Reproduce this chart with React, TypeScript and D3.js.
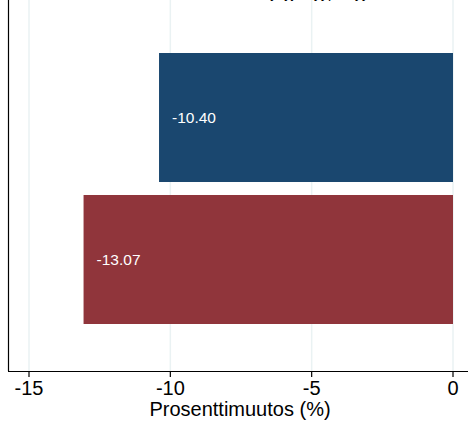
import React from "react";
import * as d3 from "d3";

const categories = ["Ryhmä A", "Ryhmä B"];
const values = [-10.4, -13.07];
const colors = ["#1a476f", "#90353b"];
const xTicks = [-15, -10, -5, 0];
const xTitle = "Prosenttimuutos (%)";
const topTitle = "kysyjä, tyypillisyys,";

const W = 468;
const H = 421;

export default function App() {
  const x = d3.scaleLinear().domain([-15, 0]).range([29, 453]);
  const y = d3
    .scaleBand<string>()
    .domain(categories)
    .range([6, 371])
    .paddingInner(0.0915)
    .paddingOuter(0.331);
  const axisY = 371;
  const font = "'Liberation Sans', Arial, sans-serif";
  return (
    <svg
      width={W}
      height={H}
      style={{ position: "absolute", left: 0, top: 0, background: "#fff" }}
      fontFamily={font}
    >
      <rect x={0} y={0} width={W} height={H} fill="#fff" />
      {xTicks.map((t) => (
        <line
          key={"g" + t}
          x1={x(t)}
          x2={x(t)}
          y1={0}
          y2={axisY}
          stroke="#eaf2f3"
          strokeWidth={1.5}
        />
      ))}
      {categories.map((c, i) => (
        <rect
          key={c}
          x={x(values[i])}
          y={y(c)}
          width={x(0) - x(values[i])}
          height={y.bandwidth()}
          fill={colors[i]}
        />
      ))}
      {categories.map((c, i) => (
        <text
          key={"l" + c}
          x={x(values[i]) + 13}
          y={(y(c) as number) + y.bandwidth() / 2}
          dy="0.35em"
          fill="#fff"
          fontSize={15.5}
        >
          {values[i].toFixed(2)}
        </text>
      ))}
      <line x1={8.5} x2={8.5} y1={0} y2={axisY} stroke="#000" strokeWidth={1.2} />
      <line x1={8} x2={W} y1={axisY + 0.5} y2={axisY + 0.5} stroke="#000" strokeWidth={1.2} />
      {xTicks.map((t) => (
        <g key={"t" + t}>
          <line x1={x(t)} x2={x(t)} y1={axisY} y2={axisY + 6} stroke="#000" strokeWidth={1.2} />
          <text x={x(t)} y={axisY + 24} textAnchor="middle" fontSize={20} fill="#000">
            {String(t)}
          </text>
        </g>
      ))}
      <text x={240} y={416} textAnchor="middle" fontSize={20} fill="#000">
        {xTitle}
      </text>
      <text x={380} y={-2} textAnchor="end" fontSize={14} fill="#000">
        {topTitle}
      </text>
    </svg>
  );
}
